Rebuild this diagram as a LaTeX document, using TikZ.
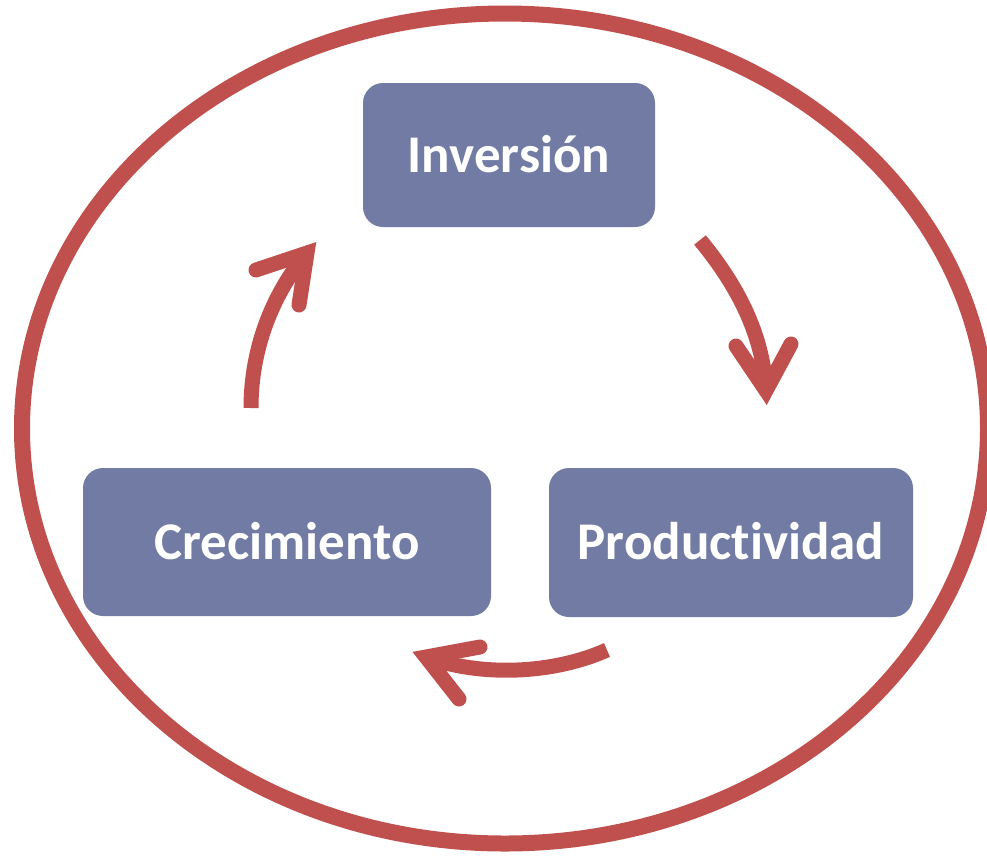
\documentclass[tikz,border=0pt]{standalone}
\usepackage{fontspec}
\setmainfont{Carlito}[Ligatures={NoCommon}]
\definecolor{arrred}{HTML}{C0504D}
\definecolor{boxblue}{HTML}{727BA3}
\begin{document}
\begin{tikzpicture}[x=1pt,y=-1pt,
  box/.style={rectangle, rounded corners=20pt, fill=boxblue, text=white,
    font=\fontsize{53}{60}\selectfont\bfseries, text height=34pt, text depth=0pt,
    inner sep=0pt, minimum height=146pt},
  shaft/.style={draw=arrred, line width=15pt, line cap=butt},
  head/.style={draw=arrred, line width=15pt, line cap=round, line join=miter, miter limit=10},
  ring/.style={draw=arrred, line width=16pt}]
\useasboundingbox (0,0) rectangle (987,855);
\draw[ring] (505,428.5) ellipse [x radius=483pt, y radius=415pt];

\node[box, minimum width=292pt, minimum height=144pt] (inv) at (509,155) {Inversión};
\node[box, minimum width=408pt, minimum height=148pt] (cre) at (287,542) {Crecimiento};
\node[box, minimum width=364pt, minimum height=149pt] (pro) at (731,542.5) {Productividad};

% arrow 1: Inversion -> Productividad
\coordinate (a1s) at (700,240);
\coordinate (a1e) at (766,390.5);
\coordinate (a1w1) at (736,346);
\coordinate (a1w2) at (791,344);
\draw[shaft] (a1s) .. controls (738,286) and (763,335) .. (a1e);
\draw[head] (a1w1) -- (a1e) -- (a1w2);

% arrow 2: Productividad -> Crecimiento
\coordinate (a2s) at (607,650);
\coordinate (a2e) at (426,657);
\coordinate (a2w1) at (480,647);
\coordinate (a2w2) at (459,699);
\draw[shaft] (a2s) .. controls (553,674) and (482,677) .. (a2e);
\draw[head] (a2w1) -- (a2e) -- (a2w2);

% arrow 3: Crecimiento -> Inversion
\coordinate (a3s) at (251,408);
\coordinate (a3e) at (307,253);
\coordinate (a3w1) at (256,270);
\coordinate (a3w2) at (299,305);
\draw[shaft] (a3s) .. controls (251,350) and (271.5,295) .. (a3e);
\draw[head] (a3w1) -- (a3e) -- (a3w2);
\end{tikzpicture}
\end{document}
